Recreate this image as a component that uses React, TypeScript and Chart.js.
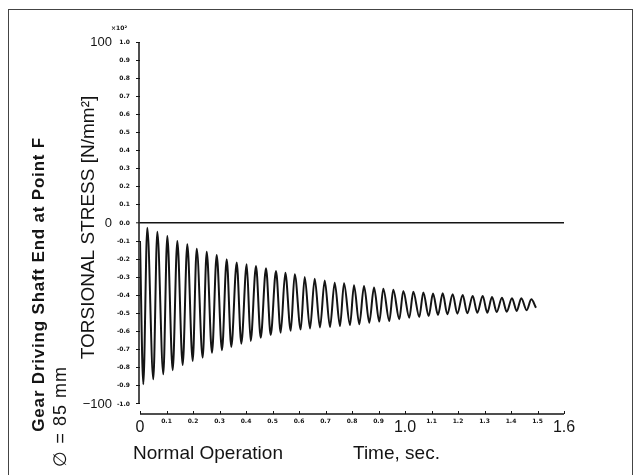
import React, { useEffect, useRef } from "react";
import { Chart, registerables } from "chart.js";

Chart.register(...registerables);

// ---- data (time in s, torsional stress in N/mm²) ----
const startPoint = [0.0, -10.0];
const endPoint = [1.4943, -46.8];

const troughTimes = [0.0125, 0.0502, 0.0879, 0.1234, 0.1611, 0.1989, 0.2366, 0.2717, 0.3094, 0.3445, 0.3823, 0.4177, 0.4555, 0.4932, 0.5309, 0.5687, 0.6064, 0.6415, 0.6792, 0.717, 0.7547, 0.7925, 0.8275, 0.8653, 0.903, 0.9408, 0.9785, 1.0162, 1.054, 1.0894, 1.1245, 1.1596, 1.1974, 1.2351, 1.2728, 1.3106, 1.346, 1.3838, 1.4215, 1.4592];
const troughStress = [-89.1, -86.4, -83.6, -81.4, -78.5, -76.2, -74.4, -71.7, -70.3, -68.5, -66.7, -65.2, -63.4, -61.9, -60.6, -59.6, -58.8, -58.3, -57.7, -57.5, -56.9, -56.4, -56.0, -55.1, -54.5, -54.1, -53.2, -52.3, -51.9, -51.4, -50.8, -50.4, -50.1, -49.9, -49.6, -49.6, -49.2, -49.0, -48.6, -48.2];
const peakTimes = [0.0275, 0.0653, 0.103, 0.1408, 0.1785, 0.214, 0.2517, 0.2894, 0.3272, 0.3649, 0.4026, 0.4377, 0.4755, 0.5132, 0.5483, 0.5838, 0.6215, 0.6592, 0.697, 0.7347, 0.7698, 0.8075, 0.8453, 0.883, 0.9181, 0.9558, 0.9936, 1.0313, 1.0691, 1.1057, 1.1423, 1.18, 1.2177, 1.2555, 1.2932, 1.3283, 1.366, 1.4038, 1.4389, 1.4766];
const peakStress = [-2.6, -4.8, -7.2, -9.9, -11.8, -14.2, -15.9, -17.7, -20.1, -21.9, -22.8, -23.8, -25.0, -26.5, -27.5, -28.4, -29.8, -30.8, -31.8, -33.0, -33.3, -34.4, -34.8, -35.7, -36.3, -36.9, -37.6, -38.0, -38.4, -39.0, -38.8, -39.4, -39.8, -40.3, -40.3, -40.9, -41.3, -41.6, -41.6, -42.2];

// ---- ticks ----
const yTickValues = [100, 90, 80, 70, 60, 50, 40, 30, 20, 10, 0, -10, -20, -30, -40, -50, -60, -70, -80, -90, -100];
const yTinyLabels = ["1.0", "0.9", "0.8", "0.7", "0.6", "0.5", "0.4", "0.3", "0.2", "0.1", "0.0", "-0.1", "-0.2", "-0.3", "-0.4", "-0.5", "-0.6", "-0.7", "-0.8", "-0.9", "-1.0"];
const yBigTickValues = [100, 0, -100];
const yBigLabels = ["100", "0", "\u2212100"];
const xTickValues = [0, 0.1, 0.2, 0.3, 0.4, 0.5, 0.6, 0.7, 0.8, 0.9, 1.0, 1.1, 1.2, 1.3, 1.4, 1.5, 1.6];
const xTickLabels = ["0", "0.1", "0.2", "0.3", "0.4", "0.5", "0.6", "0.7", "0.8", "0.9", "1.0", "1.1", "1.2", "1.3", "1.4", "1.5", "1.6"];
const xBigLabels = ["0", "1.0", "1.6"];

const SANS = "'Liberation Sans', Arial, Helvetica, sans-serif";
const INK = "#141414";

function buildSeries() {
  const pts: { x: number; y: number }[] = [{ x: startPoint[0], y: startPoint[1] }];
  for (let i = 0; i < troughTimes.length; i++) {
    pts.push({ x: troughTimes[i], y: troughStress[i] });
    pts.push({ x: peakTimes[i], y: peakStress[i] });
  }
  pts.push({ x: endPoint[0], y: endPoint[1] });
  return pts;
}

const axisLinesPlugin = {
  id: "axisLines",
  afterDraw(chart: any) {
    const { ctx, scales } = chart;
    const xs = scales.x;
    const ys = scales.y;
    ctx.save();
    ctx.strokeStyle = INK;
    ctx.lineWidth = 1.5;
    const x0 = xs.getPixelForValue(0) - 1;
    ctx.beginPath();
    ctx.moveTo(x0, ys.getPixelForValue(yTickValues[0]));
    ctx.lineTo(x0, ys.getPixelForValue(yTickValues[yTickValues.length - 1]));
    ctx.stroke();
    const yb = chart.chartArea.bottom + 1;
    ctx.beginPath();
    ctx.moveTo(xs.getPixelForValue(xTickValues[0]), yb);
    ctx.lineTo(xs.getPixelForValue(xTickValues[xTickValues.length - 1]), yb);
    ctx.stroke();
    ctx.lineWidth = 1;
    xTickValues.forEach((v) => {
      const px = Math.round(xs.getPixelForValue(v)) + 0.5;
      ctx.beginPath();
      ctx.moveTo(px, yb);
      ctx.lineTo(px, yb - 3);
      ctx.stroke();
    });
    ctx.restore();
  },
};

export default function App() {
  const canvasRef = useRef<HTMLCanvasElement | null>(null);

  useEffect(() => {
    if (!canvasRef.current) return;
    const chart = new Chart(canvasRef.current, {
      type: "line",
      data: {
        datasets: [
          {
            data: buildSeries(),
            borderColor: INK,
            borderWidth: 2,
            pointRadius: 0,
            fill: false,
            cubicInterpolationMode: "monotone",
          },
        ],
      },
      options: {
        animation: false,
        responsive: false,
        maintainAspectRatio: false,
        layout: { padding: { left: 77, right: 73, top: 42, bottom: 0 } },
        plugins: { legend: { display: false }, tooltip: { enabled: false } },
        scales: {
          x: {
            type: "linear",
            min: 0,
            max: 1.6,
            grid: { display: false, drawTicks: false },
            border: { display: false },
            afterBuildTicks: (s: any) => {
              s.ticks = xTickValues.map((v) => ({ value: v }));
            },
            afterFit: (s: any) => {
              s.height = 62;
            },
            ticks: {
              autoSkip: false,
              maxRotation: 0,
              padding: 5,
              color: INK,
              callback: (_v: any, i: number) => xTickLabels[i],
              font: (ctx: any) =>
                xBigLabels.includes(xTickLabels[ctx.index])
                  ? { family: SANS, size: 16 }
                  : { family: "'DejaVu Sans', sans-serif", size: 6, weight: "bold" },
            },
          },
          y: {
            type: "linear",
            position: "left",
            weight: 0,
            min: -105,
            max: 100,
            border: { display: false },
            grid: {
              drawOnChartArea: true,
              color: (ctx: any) => (ctx.tick && ctx.tick.value === 0 ? INK : "rgba(0,0,0,0)"),
              lineWidth: (ctx: any) => (ctx.tick && ctx.tick.value === 0 ? 1.6 : 1),
              tickColor: INK,
              tickLength: 4,
              tickWidth: 1,
            },
            afterBuildTicks: (s: any) => {
              s.ticks = yTickValues.map((v) => ({ value: v }));
            },
            afterFit: (s: any) => {
              s.width = 25;
            },
            ticks: {
              autoSkip: false,
              padding: 6,
              color: INK,
              callback: (_v: any, i: number) => yTinyLabels[i],
              font: { family: "'DejaVu Sans', sans-serif", size: 6, weight: "bold" },
            },
          },
          y2: {
            type: "linear",
            position: "left",
            weight: 1,
            min: -105,
            max: 100,
            border: { display: false },
            grid: { display: false, drawTicks: false },
            afterBuildTicks: (s: any) => {
              s.ticks = yBigTickValues.map((v) => ({ value: v }));
            },
            afterFit: (s: any) => {
              s.width = 38;
            },
            ticks: {
              autoSkip: false,
              padding: 3,
              color: INK,
              callback: (_v: any, i: number) => yBigLabels[i],
              font: { family: SANS, size: 13 },
            },
            title: {
              display: true,
              text: "TORSIONAL STRESS [N/mm\u00b2]",
              color: INK,
              padding: 0,
              font: { family: SANS, size: 19 },
            },
          },
        },
      },
      plugins: [axisLinesPlugin],
    } as any);
    return () => chart.destroy();
  }, []);

  const abs: React.CSSProperties = { position: "absolute", whiteSpace: "nowrap", color: INK, fontFamily: SANS };
  const vertical: React.CSSProperties = {
    ...abs,
    writingMode: "vertical-rl",
    transform: "rotate(180deg)",
  };

  return (
    <div style={{ position: "fixed", left: 0, top: 0, width: 637, height: 475, background: "#fff", overflow: "hidden" }}>
      <div style={{ position: "absolute", left: 8, top: 9, width: 623, height: 490, border: "1px solid #444" }} />
      <canvas ref={canvasRef} width={637} height={475} style={{ position: "absolute", left: 0, top: 0 }} />
      <div style={{ ...abs, left: 111, top: 24, fontSize: 6, fontWeight: "bold", fontFamily: "'DejaVu Sans', sans-serif" }}>×10²</div>
      <div style={{ ...abs, left: 133, top: 443, fontSize: 19, lineHeight: "19px" }}>Normal Operation</div>
      <div style={{ ...abs, left: 353, top: 443, fontSize: 19, lineHeight: "19px" }}>Time, sec.</div>
      <div style={{ ...vertical, left: 30, bottom: 43, fontSize: 17, lineHeight: "17px", fontWeight: 900, letterSpacing: 0.8 }}>
        Gear Driving Shaft End at Point F
      </div>
      <div style={{ ...vertical, left: 51, bottom: 8, fontSize: 18, lineHeight: "18px", letterSpacing: 1 }}>
        ∅ = 85 mm
      </div>
    </div>
  );
}
